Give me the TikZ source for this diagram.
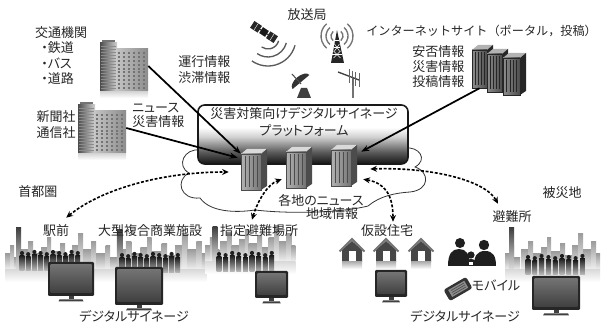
\documentclass[tikz,border=0pt]{standalone}
\usepackage{fontspec}
\setmainfont{Noto Sans CJK JP}
\newfontfamily\kana{Noto Sans CJK JP}[RawFeature=+palt]
\usetikzlibrary{arrows.meta,calc}

% light top, dark bottom for the platform panel
\pgfdeclareverticalshading{platshade}{100bp}{%
  color(0bp)=(black!92); color(25bp)=(black!92); color(35bp)=(black!65);
  color(48bp)=(black!18); color(56bp)=(white); color(100bp)=(white)}

\tikzset{
  lbl/.style={font=\kana\fontsize{9.75}{11}\selectfont, text=black!85, inner sep=0pt},
  feed/.style={line width=1.3pt, -{Stealth[length=6pt,width=4.5pt]}},
  link/.style={line width=1.2pt, dash pattern=on 2.2pt off 1.3pt,
    {Stealth[length=5pt,width=4.5pt]}-{Stealth[length=5pt,width=4.5pt]}},
  person/.style={fill=black!88},
  cloudline/.style={draw=black!80, line width=0.6pt, fill=white},
}

% tower server: #1 name, (#2,#3) front top-left, #4 width, #5 height, #6 base grey
\newcommand\towerunit[6]{%
  \pgfmathtruncatemacro\tuA{#6-15}%
  \pgfmathtruncatemacro\tuB{#6+25}%
  \pgfmathtruncatemacro\tuC{#6+40}%
  \begin{scope}[shift={(#2,#3)}]
    \fill[black!\tuA] (0,0) -- (6,-5) -- ({#4+6},-5) -- (#4,0) -- cycle;
    \fill[black!\tuC] (#4,0) -- ({#4+6},-5) -- ({#4+6},{#5-4}) -- (#4,#5) -- cycle;
    \shade[left color=black!#6, right color=black!\tuB] (0,0) rectangle (#4,#5);
    \foreach \f in {0.2,0.4,0.6,0.8}
      \draw[black!\tuC, line width=0.35pt] ({\f*#4},2.5) -- ({\f*#4},{#5-2.5});
    \draw[black!\tuC, line width=0.3pt] (0,0) rectangle (#4,#5);
    \node[inner sep=0pt, minimum width={#4*0.75pt}, minimum height={#5*0.75pt}] (#1) at ({#4/2},{#5/2}) {};
  \end{scope}}

% office buildings: #1 name, (#2,#3) top-left of the tall tower
\newcommand\officepair[3]{%
  \begin{scope}[shift={(#2,#3)}]
    \shade[left color=black!22, right color=black!45] (15,9) rectangle (48,51);
    \foreach \c in {0,...,5}
      \foreach \r in {0,...,9}
        \fill[black!55] ({17.5+\c*5},{12+\r*3.9}) rectangle ({20+\c*5},{14+\r*3.9});
    \fill[black!55] (2,0) rectangle (15,3);
    \shade[left color=black!70, right color=black!18] (0,3) rectangle (17,52);
    \foreach \r in {0,...,15}
      \draw[black!45, line width=0.3pt] (1,{6+\r*3}) -- (16,{6+\r*3});
    \shade[top color=black!15, bottom color=white] (0,52) rectangle (48,58);
    \node[inner sep=0pt, minimum width=36pt, minimum height=39pt] (#1) at (24,26) {};
  \end{scope}}

% city skyline: #1 left x, #2 base y, #3 x-scale, #4 tall tower offset, #5 tower height
\newcommand\skyband[5]{%
  \begin{scope}[shift={(#1,#2)}, xscale=#3]
    \foreach \bx/\bw/\bh in {0/5/14, 5/4/22, 9/6/10, 16/7/18, 23/5/26, 28/8/14,
        36/6/20, 42/4/30, 46/9/16, 55/5/24, 60/7/12, 67/6/22, 73/5/34, 78/8/18,
        86/5/26, 91/4/14}
      \shade[top color=black!38, bottom color=black!5] (\bx,-\bh) rectangle ({\bx+\bw},2);
    \shade[top color=black!75, bottom color=black!12] (#4,-#5) rectangle ({#4+5},2);
    \shade[top color=black!14, bottom color=white] (0,2) rectangle (95,14);
  \end{scope}}

% a row of standing people: #1 first x, #2 step, #3 count, #4 head y
\newcommand\crowd[4]{%
  \foreach \i in {1,...,#3}{%
    \pgfmathsetmacro\px{#1+(\i-1)*#2}%
    \pgfmathsetmacro\dh{mod(\i,3)*1.1}%
    \fill[person] (\px,{#4+\dh}) circle (2.1);
    \shade[top color=black!88, bottom color=black!25]
      ({\px-2.4},{#4+\dh+2.6}) rectangle ({\px+2.4},{#4+19});
  }}

% flat-panel display: #1,#2 top-left, #3,#4 bottom-right
\newcommand\display[4]{%
  \pgfmathsetmacro\mc{(#1+#3)/2}%
  \pgfmathsetmacro\mw{(#3-#1)/4}%
  \fill[black!75] ({\mc-2.5},#4) rectangle ({\mc+2.5},{#4+3.5});
  \fill[black!75] ({\mc-\mw},{#4+3.5}) -- ({\mc+\mw},{#4+3.5}) -- ({\mc+\mw+1},{#4+5.5}) -- ({\mc-\mw-1},{#4+5.5}) -- cycle;
  \fill[black!85, rounded corners=0.8pt] (#1,#2) rectangle (#3,#4);
  \shade[top color=black!55, bottom color=black!75] ({#1+2.5},{#2+2.5}) rectangle ({#3-2.5},{#4-3});}

% small house: #1 centre x, #2 base y
\newcommand\hut[2]{%
  \fill[black!72] ({#1-10},#2) -- ({#1-10},{#2-12}) -- (#1,{#2-21}) -- ({#1+10},{#2-12}) -- ({#1+10},#2) -- cycle;
  \draw[black!55, line width=1.4pt] ({#1-12.5},{#2-10.5}) -- (#1,{#2-23}) -- ({#1+12.5},{#2-10.5});
  \fill[white] ({#1-3.5},{#2-11}) rectangle ({#1+3.5},{#2-1});
  \shade[top color=black!30, bottom color=white] ({#1-10},#2) rectangle ({#1+10},{#2+7});}

\begin{document}
\begin{tikzpicture}[x=0.75pt, y=-0.75pt]
\useasboundingbox (0,0) rectangle (607,327);

% ---------- information sources ----------
\officepair{b1}{100}{40}
\officepair{b2}{78}{102}

% satellite
\begin{scope}[shift={(264,32)}, rotate=-33]
  \draw[black!80, line width=0.8pt] (-13,0) -- (13,0);
  \fill[black!85] (-14,-4) rectangle (-5,4);
  \fill[black!85] (5,-4) rectangle (14,4);
  \draw[white, line width=0.3pt] (-9.5,-4) -- (-9.5,4) (9.5,-4) -- (9.5,4);
  \fill[black!90] (-3.5,-3.5) rectangle (3.5,3.5);
\end{scope}
\foreach \r in {11,19,28}
  \draw[black!65, line width=1pt] (268,38) ++(15:\r) arc[start angle=15, end angle=125, radius=\r];

% broadcast tower
\fill[black!85] (337,30) -- (331,63) -- (344,63) -- cycle;
\foreach \yy in {40,47,54}
  \draw[white, line width=0.4pt] ({337-(\yy-30)*0.2},\yy) -- ({337+(\yy-30)*0.2},\yy);
\draw[white, line width=0.4pt] (334.5,44) -- (339.5,51) (339.5,44) -- (334.5,51) (333.5,51) -- (340.5,58) (340.5,51) -- (333.5,58);
\foreach \r in {6,11,16}{
  \draw[black!55, line width=1pt] (337,36) ++(130:\r) arc[start angle=130, end angle=230, radius=\r];
  \draw[black!55, line width=1pt] (337,36) ++(-50:\r) arc[start angle=-50, end angle=50, radius=\r];
}

% parabolic dish
\fill[black!75] (297,98) -- (311,98) -- (307,88) -- (301,88) -- cycle;
\begin{scope}[shift={(301,82)}, rotate=40]
  \fill[black!80] (-11,0) arc[start angle=180, end angle=360, x radius=11, y radius=6] -- cycle;
\end{scope}
\draw[black!70, line width=0.8pt] (301,84) -- (292,74);

% yagi antenna
\draw[black!55, line width=1.4pt] (353,78) -- (353,98);
\draw[black!75, line width=1pt] (338,72) -- (359,80);
\foreach \t in {0.55,0.7,0.85,1}
  \draw[black!60, line width=0.6pt] ({338+21*\t},{72+8*\t-7}) -- ({338+21*\t},{72+8*\t+7});

% internet servers
\towerunit{t1}{472}{50}{15}{38}{45}
\towerunit{t2}{487}{54}{15}{38}{45}
\towerunit{t3}{503}{58}{17}{37}{45}

% ---------- network cloud and platform ----------
\path[cloudline] (200,150)
  .. controls (184,148) and (176,166) .. (189,173)
  .. controls (175,180) and (180,200) .. (200,198)
  .. controls (210,212) and (235,213) .. (255,210)
  .. controls (290,214) and (340,213) .. (368,206)
  .. controls (380,196) and (395,193) .. (410,192)
  .. controls (430,190) and (430,172) .. (415,167)
  .. controls (428,160) and (420,146) .. (404,148)
  -- cycle;

\node[draw=black!90, line width=1.2pt, rounded corners=5pt, shading=platshade,
      minimum width=157.5pt, minimum height=44.25pt, inner sep=0pt] (plat) at (303,134.5) {};
\node[lbl] (title1) at (304,114) {災害対策向けデジタルサイネージ};
\node[lbl] (title2) at (304,131) {プラットフォーム};

\towerunit{s1}{241}{154}{20}{36}{30}
\towerunit{s2}{286}{152}{20}{36}{30}
\towerunit{s3}{331}{150}{20}{36}{30}

% ---------- receiving sites ----------
\skyband{5}{268}{1}{11}{40}
\skyband{100}{268}{1.12}{15}{38}
\skyband{205}{260}{0.95}{8}{33}
\skyband{505}{268}{1}{4}{40}

\crowd{22}{6.2}{10}{252}
\crowd{122}{6.2}{10}{254}
\crowd{219}{6.6}{9}{253}
\crowd{528}{6.8}{9}{256}

\display{48}{262}{94}{296}
\display{115}{267}{163}{305}
\display{255}{271}{288}{298}
\display{375}{270}{407}{297}
\display{532}{276}{580}{310}

\hut{352}{262}
\hut{386}{262}
\hut{421}{262}

% family group
\fill[person] (460,243) circle (5);
\fill[person] (448,266) .. controls (448,254) and (452,249) .. (459,249) .. controls (466,249) and (470,254) .. (470,266) -- cycle;
\fill[person] (484,245) circle (5.2);
\fill[person] (474,266) .. controls (474,256) and (477,251) .. (485,251) .. controls (493,251) and (496,256) .. (496,266) -- cycle;
\fill[person] (471,255) circle (3.6);
\fill[person] (465,266) .. controls (465,262) and (467,259) .. (471,259) .. controls (475,259) and (477,262) .. (477,266) -- cycle;
\fill[white] (469,262) rectangle (473,265);

% mobile phone
\begin{scope}[shift={(458,289)}, rotate=30]
  \fill[black!80, rounded corners=1.8pt] (-13,-6.5) rectangle (13,6.5);
  \fill[black!45] (-9,-4) rectangle (9.5,4);
  \foreach \yy in {-2.2,0,2.2}
    \draw[black!70, line width=0.5pt] (-7,\yy) -- (8,\yy);
\end{scope}

% ---------- labels ----------
\node[lbl] (kotsu) at (61,33) {交通機関};
\node[lbl, anchor=west] (tetsudo) at (41,48) {・鉄道};
\node[lbl, anchor=west] (bus) at (41,63) {・バス};
\node[lbl, anchor=west] (doro) at (41,79) {・道路};
\node[lbl] (shinbun) at (56,117) {新聞社};
\node[lbl] (tsushin) at (56,133) {通信社};
\node[lbl, anchor=west] (news) at (132,108) {ニュース};
\node[lbl, anchor=west] (saigai) at (132,122) {災害情報};
\node[lbl, anchor=west] (unko) at (178,62) {運行情報};
\node[lbl, anchor=west] (jutai) at (178,78) {渋滞情報};
\node[lbl] (hoso) at (307,15) {放送局};
\node[lbl, anchor=west, font=\rmfamily\fontsize{9.1}{11}\selectfont] (inet) at (366,31) {インターネットサイト（ポータル，投稿）};
\node[lbl, anchor=west] (anpi) at (412,52) {安否情報};
\node[lbl, anchor=west] (saigai2) at (412,67) {災害情報};
\node[lbl, anchor=west] (toko) at (412,82) {投稿情報};
\node[lbl] (kakuchi) at (321,201) {各地のニュース};
\node[lbl] (chiiki) at (332,214) {地域情報};
\node[lbl] (shuto) at (38,192) {首都圏};
\node[lbl] (eki) at (56,231) {駅前};
\node[lbl] (shogyo) at (150,231) {大型複合商業施設};
\node[lbl] (shitei) at (259,231) {指定避難場所};
\node[lbl] (kasetsu) at (387,231) {仮設住宅};
\node[lbl] (hinan) at (512,217) {避難所};
\node[lbl] (hisai) at (562,193) {被災地};
\node[lbl] (mobile) at (496,285) {モバイル};
\node[lbl] (signL) at (134,316) {デジタルサイネージ};
\node[lbl] (signR) at (465,316) {デジタルサイネージ};

% ---------- connectors ----------
\draw[feed] (b1.east) -- (s1.north west);
\draw[feed] (b2.east) -- ($(s1.north west)+(-3,4)$);
\draw[feed] (t1.south) -- ($(s3.north east)+(10,2)$);

\draw[link] ($(eki.north east)+(-3,-7)$) .. controls (100,190) and (160,172) .. ($(s1.west)+(-12,0)$);
\draw[link] ($(shitei.north)+(-7,-5)$) .. controls (258,200) and (268,184) .. ($(s2.south west)+(-4,-9)$);
\draw[link] ($(s3.south east)+(12,-7)$) .. controls (385,183) and (393,195) .. ($(kasetsu.north)+(6,-3)$);
\draw[link] ($(s3.east)+(19,1)$) .. controls (430,167) and (485,180) .. ($(hinan.north)+(-14,-7)$);
\end{tikzpicture}
\end{document}
